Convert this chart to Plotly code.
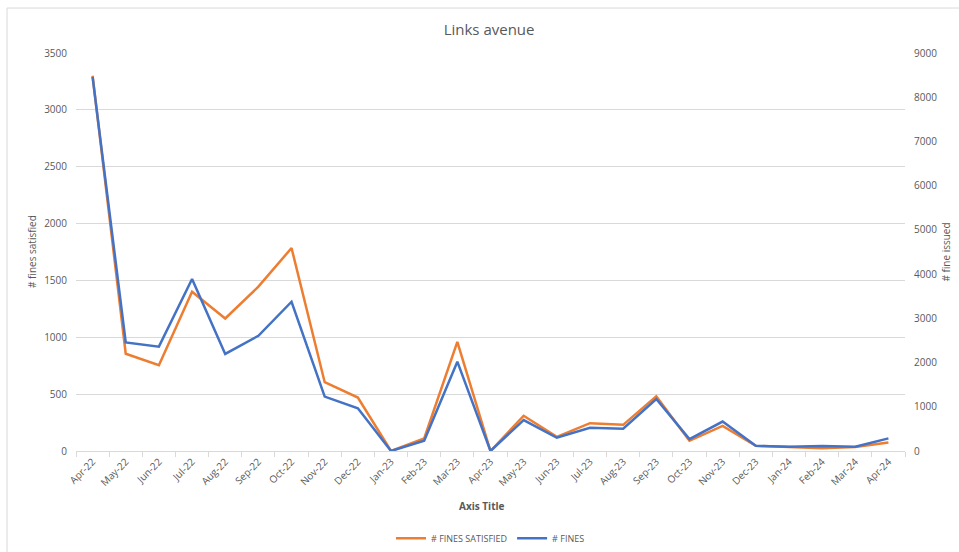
import plotly.graph_objects as go

months = ["Apr-22", "May-22", "Jun-22", "Jul-22", "Aug-22", "Sep-22", "Oct-22", "Nov-22",
          "Dec-22", "Jan-23", "Feb-23", "Mar-23", "Apr-23", "May-23", "Jun-23", "Jul-23",
          "Aug-23", "Sep-23", "Oct-23", "Nov-23", "Dec-23", "Jan-24", "Feb-24", "Mar-24", "Apr-24"]
fines_satisfied = [3300, 855, 755, 1400, 1165, 1445, 1785, 605, 470, 0, 110, 960, 0, 310,
                   125, 245, 230, 480, 90, 220, 45, 35, 25, 35, 75]
fines_issued = [8460, 2455, 2360, 3890, 2195, 2605, 3375, 1230, 965, 0, 235, 2020, 0, 700,
                300, 525, 505, 1175, 270, 665, 120, 95, 115, 95, 285]

FONT = "Open Sans"
GREY = "#595959"
GRID = "#D9D9D9"

fig = go.Figure()
fig.add_trace(go.Scatter(x=months, y=fines_satisfied, name="# FINES SATISFIED", mode="lines",
                         line=dict(color="#ED7D31", width=2.5), yaxis="y"))
fig.add_trace(go.Scatter(x=months, y=fines_issued, name="# FINES", mode="lines",
                         line=dict(color="#4472C4", width=2.5), yaxis="y2"))

fig.update_layout(
    width=959, height=552,
    margin=dict(l=76, r=54, t=53, b=101, autoexpand=False),
    paper_bgcolor="white", plot_bgcolor="white",
    font=dict(family=FONT, size=10, color=GREY),
    title=dict(text="Links avenue", x=0.51, xanchor="center", y=0.947, yanchor="middle",
               font=dict(family=FONT, size=15, color=GREY)),
    xaxis=dict(type="category", range=[-0.5, 24.5], tickangle=-45, showgrid=False,
               showline=True, linecolor=GRID, linewidth=1, ticks="outside", tickson="boundaries",
               tickcolor=GRID, ticklen=5, tickfont=dict(size=10, color=GREY), zeroline=False,
               automargin=False),
    yaxis=dict(range=[0, 3500], dtick=500, showgrid=True, gridcolor=GRID, gridwidth=1,
               zeroline=False, showline=False, tickfont=dict(size=10, color=GREY), ticks="",
               ticklabelstandoff=8, automargin=False),
    yaxis2=dict(range=[0, 9000], dtick=1000, overlaying="y", side="right", showgrid=False,
                zeroline=False, showline=False, tickfont=dict(size=10, color=GREY), ticks="",
                ticklabelstandoff=8, automargin=False),
    legend=dict(orientation="h", x=0.5, xanchor="center", y=-0.219, yanchor="middle",
                font=dict(size=9, color=GREY), itemwidth=30, traceorder="normal"),
    showlegend=True,
    annotations=[
        dict(text="# fines satisfied", xref="paper", yref="paper", x=-0.053, y=0.5,
             textangle=-90, showarrow=False, font=dict(size=10, color=GREY),
             xanchor="center", yanchor="middle"),
        dict(text="# fine issued", xref="paper", yref="paper", x=1.049, y=0.5,
             textangle=-90, showarrow=False, font=dict(size=10, color=GREY),
             xanchor="center", yanchor="middle"),
        dict(text="<b>Axis Title</b>", xref="paper", yref="paper", x=0.49, y=-0.138,
             showarrow=False, font=dict(size=10, color=GREY),
             xanchor="center", yanchor="middle"),
    ],
    shapes=[dict(type="rect", xref="paper", yref="paper", x0=-0.0832, x1=1.08, y0=-0.3, y1=1.113,
                 line=dict(color=GRID, width=1), fillcolor="rgba(0,0,0,0)", layer="below")],
)

fig.write_html("out.html")
